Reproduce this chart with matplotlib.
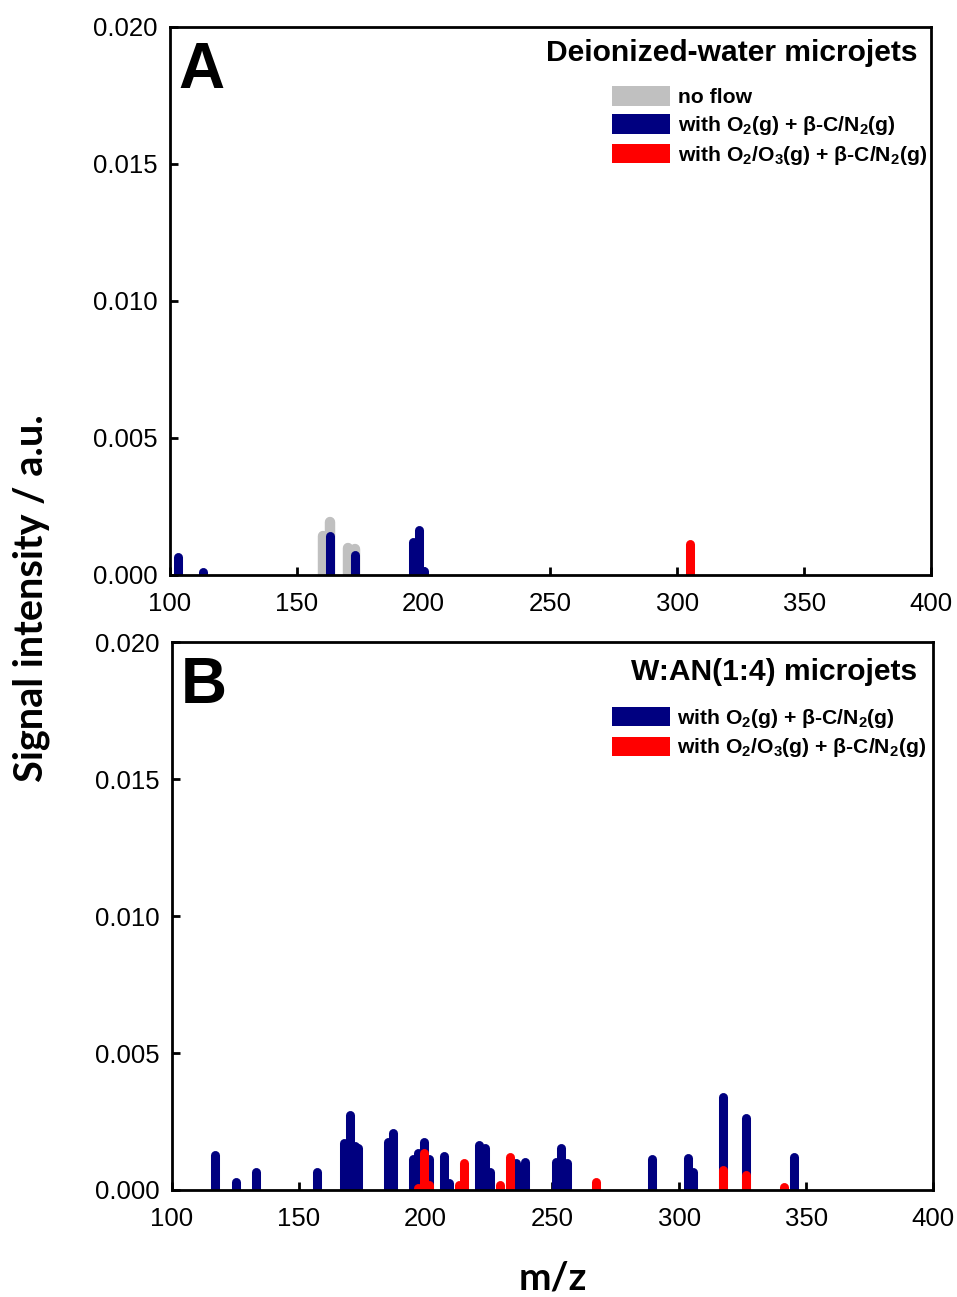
import matplotlib
matplotlib.use("Agg")
import numpy as np
import matplotlib.pyplot as plt
from matplotlib.patches import Patch

plt.rcParams['font.family'] = ['Liberation Sans', 'DejaVu Sans']
plt.rcParams['mathtext.fontset'] = 'custom'
plt.rcParams['mathtext.bf'] = 'Liberation Sans:bold'
plt.rcParams['mathtext.rm'] = 'Liberation Sans:bold'
plt.rcParams['mathtext.default'] = 'bf'

# panel A: deionized-water microjets
a_noflow_mz = [160.3, 163.0, 170.0, 172.9]
a_noflow_int = [0.0016, 0.0021, 0.00115, 0.00112]
a_o2_mz = [103.0, 113.2, 163.2, 172.9, 196.0, 198.1, 200.3]
a_o2_int = [0.00081, 0.00027, 0.00158, 0.00091, 0.00138, 0.0018, 0.0003]
a_o3_mz = [305.2]
a_o3_int = [0.0013]

# panel B: W:AN(1:4) microjets
b_o2_mz = [117.1, 125.1, 133.0, 157.2, 167.8, 170.0, 172.1, 173.5, 185.1, 187.2,
           195.1, 197.1, 199.2, 201.3, 207.2, 209.3, 221.1, 223.4, 225.3, 235.5,
           237.4, 239.3, 251.2, 253.3, 255.6, 289.2, 303.3, 305.4, 317.3, 326.3,
           345.2]
b_o2_int = [0.00146, 0.00045, 0.00083, 0.00083, 0.00189, 0.00292, 0.00176, 0.0017, 0.00192, 0.00225,
            0.00128, 0.00152, 0.00192, 0.00128, 0.0014, 0.00043, 0.0018, 0.0017, 0.00083, 0.00116,
            0.00082, 0.00119, 0.00119, 0.0017, 0.00116, 0.00131, 0.00134, 0.00083, 0.00357, 0.0028,
            0.00136]
b_o3_mz = [197.1, 199.2, 201.3, 213.0, 215.2, 229.2, 233.4, 253.3, 267.1, 299.4,
           317.3, 326.3, 341.2]
b_o3_int = [0.00024, 0.00152, 0.00034, 0.00036, 0.00116, 0.00034, 0.00136, 0.00015, 0.00045, 0.00016,
            0.00088, 0.00073, 0.00027]

lab_noflow = 'no flow'
lab_o2 = r'with O$_2$(g) + β-C/N$_2$(g)'
lab_o3 = r'with O$_2$/O$_3$(g) + β-C/N$_2$(g)'

c_gray = '#c0c0c0'
c_blue = '#000080'
c_red = '#ff0000'
lw = 6.5  # bar thickness in points

fig = plt.figure(figsize=(9.57, 12.97), dpi=100)
axA = fig.add_axes([0.1776, 0.5567, 0.7952, 0.4225])
axB = fig.add_axes([0.1797, 0.0825, 0.7952, 0.4225])

# the rounded cap sticks out above the line end, so pull the end down by its radius
ax_h_px = 0.4225 * 12.97 * 100
cap = (lw / 72 * 100 / 2) * 0.020 / ax_h_px


def sticks(ax, mz, val, color, width=lw, z=2):
    top = np.array(val) - cap
    ax.vlines(mz, 0, top, colors=color, linewidth=width, capstyle='round', zorder=z)


def style(ax):
    ax.set_xlim(100, 400)
    ax.set_ylim(0, 0.020)
    ax.set_xticks(range(100, 401, 50))
    ax.set_yticks([0, 0.005, 0.010, 0.015, 0.020])
    ax.set_yticklabels(['0.000', '0.005', '0.010', '0.015', '0.020'])
    ax.tick_params(direction='in', length=6, width=2, labelsize=18.5)
    ax.tick_params(axis='y', pad=9)
    ax.tick_params(axis='x', pad=12)
    for s in ax.spines.values():
        s.set_linewidth(2)
        s.set_zorder(5)


leg_kw = dict(loc='upper right', frameon=False, prop={'size': 15.2, 'weight': 'bold'},
              handlelength=2.75, handleheight=1.05, handletextpad=0.35, labelspacing=0.32,
              borderaxespad=0.2)

# panel A
sticks(axA, a_noflow_mz, a_noflow_int, c_gray, width=lw + 1, z=1)
sticks(axA, a_o2_mz, a_o2_int, c_blue)
sticks(axA, a_o3_mz, a_o3_int, c_red, z=3)
style(axA)
axA.text(0.011, 0.975, 'A', transform=axA.transAxes, fontsize=46, fontweight='bold',
         va='top', ha='left')
axA.text(0.982, 0.978, 'Deionized-water microjets', transform=axA.transAxes,
         fontsize=21.6, fontweight='bold', va='top', ha='right')
hA = [Patch(facecolor=c_gray, label=lab_noflow),
      Patch(facecolor=c_blue, label=lab_o2),
      Patch(facecolor=c_red, label=lab_o3)]
axA.legend(handles=hA, bbox_to_anchor=(1.011, 0.915), **leg_kw)

# panel B
sticks(axB, b_o2_mz, b_o2_int, c_blue)
sticks(axB, b_o3_mz, b_o3_int, c_red, z=3)
style(axB)
axB.text(0.011, 0.975, 'B', transform=axB.transAxes, fontsize=46, fontweight='bold',
         va='top', ha='left')
axB.text(0.979, 0.97, 'W:AN(1:4) microjets', transform=axB.transAxes,
         fontsize=21.6, fontweight='bold', va='top', ha='right')
hB = [Patch(facecolor=c_blue, label=lab_o2),
      Patch(facecolor=c_red, label=lab_o3)]
axB.legend(handles=hB, bbox_to_anchor=(1.008, 0.905), **leg_kw)

fig.text(0.033, 0.539, 'Signal intensity / a.u.', rotation=90, ha='center', va='center',
         fontsize=28.5, fontweight='bold', family=['Lato', 'DejaVu Sans'])
fig.text(0.578, 0.0146, 'm/z', ha='center', va='center',
         fontsize=28, fontweight='bold', family=['Lato', 'DejaVu Sans'])

fig.savefig('out.png', dpi=100)
